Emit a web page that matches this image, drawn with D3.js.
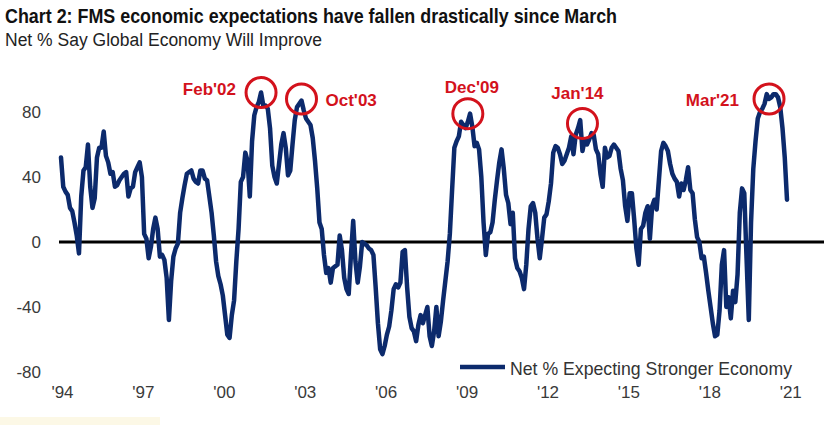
<!DOCTYPE html>
<html><head><meta charset="utf-8">
<script src="https://cdn.jsdelivr.net/npm/d3@7"></script>
<style>body{margin:0;background:#fff}svg{display:block}</style>
</head><body>
<svg id="chart" width="824" height="425"></svg>
<script>
// ---- data (monthly, Sep 1994 .. Aug 2021) ----
const startMonth = "1994-09";
const values = [
  52,34,31,29,21,19,12,4,-7,28,44,46,
  60,34,21,27,52,58,58,68,53,49,42,43,
  34,35,38,40,42,43,28,33,34,43,46,49,
  40,5,2,-10,-3,8,15,8,-9,-8,-11,-22,
  -48,-24,-9,-4,-1,18,27,35,42,43,44,39,
  37,36,44,44,39,38,28,18,4,-12,-21,-26,
  -33,-45,-57,-59,-45,-36,-12,8,37,40,55,50,
  28,62,78,83,86,92,84,84,82,70,47,40,
  36,48,60,67,58,41,44,60,75,83,85,87,
  81,76,74,72,64,50,33,12,8,-8,-19,-16,
  -25,-16,-15,-14,4,-5,-22,-29,-32,-8,13,-12,
  -25,-15,0,-1,-2,-4,-5,-8,-28,-50,-66,-69,
  -64,-57,-52,-42,-29,-26,-28,-25,-6,-5,-28,-46,
  -53,-55,-61,-51,-45,-50,-45,-40,-58,-64,-55,-40,
  -58,-49,-36,-24,-12,5,32,58,62,65,74,72,
  70,74,79,71,59,61,57,40,12,-8,5,6,
  12,26,38,49,57,45,29,24,11,18,-10,-16,
  -18,-22,-29,-14,8,22,24,18,2,-10,2,15,
  17,25,36,55,59,58,54,48,50,54,58,65,
  54,66,70,75,56,63,60,63,67,66,57,54,
  42,34,58,52,53,58,60,58,56,45,38,22,
  13,30,30,14,-4,-14,8,10,18,22,2,22,
  26,20,38,56,61,59,56,48,42,39,37,28,
  36,32,38,46,32,30,14,3,0,-10,-9,-19,
  -30,-40,-50,-58,-57,-42,-14,-5,-40,-34,-47,-30,
  -37,-20,18,33,30,-10,-48,12,45,62,76,80,
  82,85,91,88,89,91,91,89,83,70,52,26
];
const tickIndex  = [0,36,72,108,144,180,216,252,288,324];
const tickLabels = ["'94","'97","'00","'03","'06","'09","'12","'15","'18","'21"];
const yTicks     = [-80,-40,0,40,80];
const peakLabels = ["Feb'02","Oct'03","Dec'09","Jan'14","Mar'21"];
const peakIndex  = [89,107,181,232,315];
const peakValue  = [92,88,79,73,88];
const seriesName = "Net % Expecting Stronger Economy";
const titleText  = "Chart 2: FMS economic expectations have fallen drastically since March";
const subText    = "Net % Say Global Economy Will Improve";

// ---- layout ----
const svg = d3.select("#chart");
const NAVY = "#0c2a6c", RED = "#d3121c", TXT = "#3a3a3a";
const FONT = "'Liberation Sans', Arial, sans-serif";
const x = d3.scaleLinear().domain([0, values.length - 1]).range([61, 787]);
const y = d3.scaleLinear().domain([-80, 80]).range([372, 112]);

svg.append("rect").attr("x",0).attr("y",417).attr("width",160).attr("height",8).attr("fill","#fcf8e6");

svg.append("text").attr("x",5).attr("y",23)
  .attr("font-family",FONT).attr("font-weight","bold")
  .attr("font-size",21).attr("fill","#111")
  .attr("textLength",612).attr("lengthAdjust","spacingAndGlyphs").text(titleText);
svg.append("text").attr("x",5).attr("y",46)
  .attr("font-family",FONT)
  .attr("font-size",18).attr("fill","#222")
  .attr("textLength",317).attr("lengthAdjust","spacingAndGlyphs").text(subText);

// y axis labels
const yAxis = d3.axisLeft(y).tickValues(yTicks).tickSize(0).tickPadding(0)
  .tickFormat(d => String(d));
const gy = svg.append("g").attr("transform","translate(41,0)").call(yAxis);
gy.select(".domain").remove();
gy.selectAll("text").attr("font-family",FONT).attr("font-size",17).attr("fill",TXT);

// x axis labels
const xAxis = d3.axisBottom(x).tickValues(tickIndex).tickSize(0).tickPadding(0)
  .tickFormat((d,i) => tickLabels[i]);
const gx = svg.append("g").attr("transform","translate(1,386)").call(xAxis);
gx.select(".domain").remove();
gx.selectAll("text").attr("font-family",FONT).attr("font-size",17).attr("fill",TXT);

// zero line
svg.append("line").attr("x1",59).attr("x2",824).attr("y1",y(0)).attr("y2",y(0))
  .attr("stroke","#000").attr("stroke-width",3);

// series
const line = d3.line().x((d,i) => x(i)).y(d => y(d));
svg.append("path").datum(values).attr("d",line)
  .attr("fill","none").attr("stroke",NAVY).attr("stroke-width",4.5)
  .attr("stroke-linejoin","round").attr("stroke-linecap","round");

// legend
svg.append("line").attr("x1",460).attr("x2",505).attr("y1",367).attr("y2",367)
  .attr("stroke",NAVY).attr("stroke-width",4.5);
svg.append("text").attr("x",510).attr("y",375)
  .attr("font-family",FONT).attr("font-size",19).attr("fill","#333")
  .attr("textLength",282).attr("lengthAdjust","spacingAndGlyphs").text(seriesName);

// peak annotations
const R = 15;
const labelPos = [
  {dx:-25, dy:2,  anchor:"end"},
  {dx:24,  dy:7,  anchor:"start"},
  {dx:4,   dy:-21,anchor:"middle"},
  {dx:-5,  dy:-24,anchor:"middle"},
  {dx:-30, dy:7,  anchor:"end"}
];
peakLabels.forEach((lab, k) => {
  const cx = x(peakIndex[k]), cy = y(peakValue[k]);
  svg.append("circle").attr("cx",cx).attr("cy",cy).attr("r",R)
    .attr("fill","none").attr("stroke",RED).attr("stroke-width",3);
  svg.append("text").attr("x",cx + labelPos[k].dx).attr("y",cy + labelPos[k].dy)
    .attr("text-anchor",labelPos[k].anchor)
    .attr("font-family",FONT).attr("font-weight","bold")
    .attr("font-size",17).attr("fill",RED).text(lab);
});
</script>
</body></html>
